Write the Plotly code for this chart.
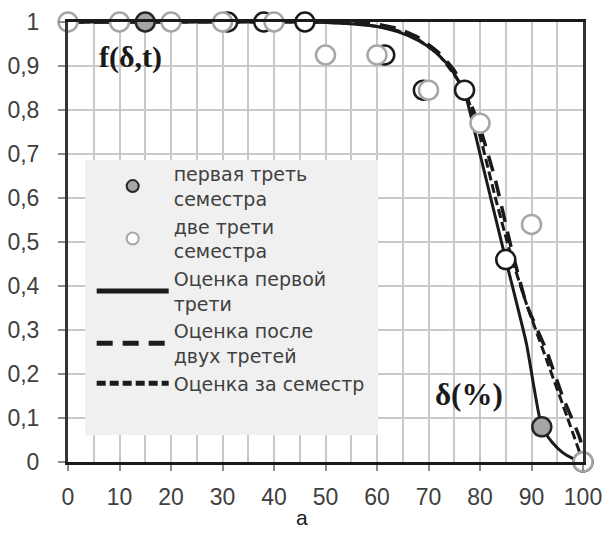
import plotly.graph_objects as go

# ---- data ----
first_third_x = [15, 92]
first_third_y = [1.0, 0.08]

two_thirds_x = [0, 10, 20, 30, 40, 50, 60, 70, 80, 90, 100]
two_thirds_y = [1.0, 1.0, 1.0, 1.0, 1.0, 0.925, 0.925, 0.845, 0.77, 0.54, 0.0]

semester_x = [31, 38, 46, 61.5, 69, 77, 85, 100]
semester_y = [1.0, 1.0, 1.0, 0.925, 0.845, 0.845, 0.46, 0.0]

est_first_x = [0, 46, 52, 56, 60, 64, 68, 71, 74, 77, 80, 85, 89, 92, 94, 96, 98, 100]
est_first_y = [1.0, 1.0, 0.998, 0.995, 0.99, 0.978, 0.958, 0.935, 0.9, 0.84, 0.7, 0.46, 0.27, 0.08,
               0.045, 0.022, 0.008, 0.0]

est_two_x = [0, 50, 56, 60, 64, 68, 72, 75, 78, 80, 83, 86, 89, 93, 96, 99.5, 100]
est_two_y = [1.0, 1.0, 0.998, 0.995, 0.985, 0.965, 0.93, 0.89, 0.82, 0.76, 0.64, 0.49, 0.36, 0.25,
             0.15, 0.05, 0.0]

est_sem_x = [0, 48, 56, 60, 64, 68, 72, 75, 77, 80, 83, 86, 89, 93, 97, 100]
est_sem_y = [1.0, 1.0, 0.996, 0.99, 0.98, 0.96, 0.925, 0.88, 0.845, 0.74, 0.6, 0.47, 0.36, 0.23,
             0.1, 0.0]

x_ticks = [0, 10, 20, 30, 40, 50, 60, 70, 80, 90, 100]
y_ticks = [0, 0.1, 0.2, 0.3, 0.4, 0.5, 0.6, 0.7, 0.8, 0.9, 1.0]
y_ticktext = ["0", "0,1", "0,2", "0,3", "0,4", "0,5", "0,6", "0,7", "0,8", "0,9", "1"]

legend_names = ["первая треть<br>семестра", "две трети<br>семестра",
                "Оценка первой<br>трети", "Оценка после<br>двух третей",
                "Оценка за семестр"]

fig = go.Figure()

# lines
fig.add_trace(go.Scatter(x=est_first_x, y=est_first_y, mode="lines", name=legend_names[2],
                         line=dict(color="#1a1a1a", width=3, shape="spline", smoothing=0.5),
                         legendrank=3, legendgroup="c", cliponaxis=False))
fig.add_trace(go.Scatter(x=est_two_x, y=est_two_y, mode="lines", name=legend_names[3],
                         line=dict(color="#1a1a1a", width=3.5, dash="16px,10px", shape="spline", smoothing=0.5),
                         legendrank=4, legendgroup="d", cliponaxis=False))
fig.add_trace(go.Scatter(x=est_sem_x, y=est_sem_y, mode="lines", name=legend_names[4],
                         line=dict(color="#1a1a1a", width=3, dash="9px,4px", shape="spline", smoothing=0.5),
                         legendrank=5, legendgroup="e", cliponaxis=False))

# markers
fig.add_trace(go.Scatter(x=semester_x, y=semester_y, mode="markers", showlegend=False,
                         marker=dict(size=19, color="white", line=dict(color="#1a1a1a", width=2.5)),
                         cliponaxis=False))
fig.add_trace(go.Scatter(x=first_third_x, y=first_third_y, mode="markers", name=legend_names[0],
                         marker=dict(size=19, color="#a6a6a6", line=dict(color="#262626", width=2.5)),
                         legendrank=1, legendgroup="a", cliponaxis=False))
fig.add_trace(go.Scatter(x=two_thirds_x, y=two_thirds_y, mode="markers", name=legend_names[1],
                         marker=dict(size=19, color="white", line=dict(color="#a6a6a6", width=2.5)),
                         legendrank=2, legendgroup="b", cliponaxis=False))

grid_c = "#c9c9c9"
tick_font = dict(family="Liberation Sans, Arial", size=23, color="#404040")
fig.update_xaxes(range=[0, 100], tickvals=x_ticks, showgrid=True, gridcolor=grid_c, gridwidth=1.5,
                 minor=dict(dtick=5, tick0=0, showgrid=True, gridcolor=grid_c, gridwidth=1.5),
                 ticks="outside", ticklen=6, tickcolor="#8c8c8c", tickwidth=1.5,
                 showline=True, linecolor="#1a1a1a", linewidth=3, mirror=True,
                 zeroline=False, tickfont=tick_font, automargin=False, ticklabelstandoff=6)
fig.update_yaxes(range=[0, 1], tickvals=y_ticks, ticktext=y_ticktext, showgrid=True, gridcolor=grid_c,
                 gridwidth=1.5, ticks="outside", ticklen=7, tickcolor="#8c8c8c", tickwidth=1.5,
                 showline=True, linecolor="#333333", linewidth=3, mirror=True, zeroline=False,
                 tickfont=tick_font, automargin=False, ticklabelstandoff=14)

# legend background box
fig.add_shape(type="rect", xref="paper", yref="paper", x0=0.033, x1=0.602, y0=0.061, y1=0.686,
              fillcolor="#f0f0f1", line=dict(width=0), layer="above")

fig.update_layout(
    width=606, height=533,
    margin=dict(l=68, r=23, t=22, b=71),
    plot_bgcolor="white", paper_bgcolor="white",
    showlegend=True,
    legend=dict(x=0.046, y=0.698, xanchor="left", yanchor="top", bgcolor="rgba(0,0,0,0)",
                font=dict(family="DejaVu Sans", size=19, color="#404040"),
                itemwidth=72, itemsizing="constant", tracegroupgap=6, traceorder="normal"),
    annotations=[
        dict(text="<b>f(δ,t)</b>", x=(130 - 68) / 515, y=(462 - 57) / 440, xref="paper", yref="paper",
             xanchor="center", yanchor="middle", showarrow=False,
             font=dict(family="Liberation Serif, Times New Roman", size=30, color="#1a1a1a")),
        dict(text="<b>δ(%)</b>", x=(469 - 68) / 515, y=(462 - 394) / 440, xref="paper", yref="paper",
             xanchor="center", yanchor="middle", showarrow=False,
             font=dict(family="Liberation Serif, Times New Roman", size=31, color="#1a1a1a")),
        dict(text="а", x=(302 - 68) / 515, y=(462 - 517) / 440, xref="paper", yref="paper",
             xanchor="center", yanchor="middle", showarrow=False,
             font=dict(family="Liberation Sans, Arial", size=21, color="#1a1a1a")),
    ],
)

fig.write_html("out.html")
